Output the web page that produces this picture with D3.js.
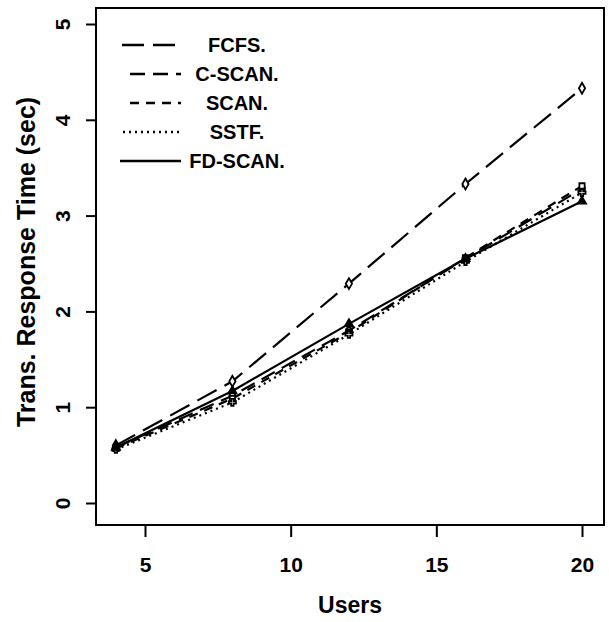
<!DOCTYPE html>
<html>
<head>
<meta charset="utf-8">
<script src="https://cdn.jsdelivr.net/npm/d3@7"></script>
<style>
  body { margin: 0; background: #fff; }
  svg text { font-family: "Liberation Sans", Arial, sans-serif; font-weight: bold; fill: #000; }
</style>
</head>
<body>
<svg id="chart" width="609" height="622"></svg>
<script>
// Data
var users = [4, 8, 12, 16, 20];
var names = ['FCFS.', 'C-SCAN.', 'SCAN.', 'SSTF.', 'FD-SCAN.'];
var fcfs   = [0.60, 1.27, 2.29, 3.33, 4.33];
var cscan  = [0.58, 1.12, 1.80, 2.55, 3.28];
var scan   = [0.57, 1.09, 1.78, 2.56, 3.31];
var sstf   = [0.56, 1.05, 1.76, 2.52, 3.24];
var fdscan = [0.58, 1.17, 1.87, 2.55, 3.15];
var xTicks = [5, 10, 15, 20];
var yTicks = [0, 1, 2, 3, 4, 5];

var series = [fcfs, cscan, scan, sstf, fdscan];
var dashes = ['22,9', '15,8', '9,7', '2,4', null];
var symbols = [d3.symbolDiamond, d3.symbolCircle, d3.symbolSquare, d3.symbolCross, d3.symbolTriangle];
var filled = [false, false, false, false, true];

// Layout
var box = {left: 96, right: 604, top: 8, bottom: 525};
var svg = d3.select('#chart');

var x = d3.scaleLinear().domain([5, 20]).range([145, 582]);
var y = d3.scaleLinear().domain([0, 5]).range([503, 24]);

// frame
svg.append('rect')
  .attr('x', box.left).attr('y', box.top)
  .attr('width', box.right - box.left).attr('height', box.bottom - box.top)
  .attr('fill', 'none').attr('stroke', '#000').attr('stroke-width', 2);

// axes
var xAxis = svg.append('g')
  .attr('transform', 'translate(0,' + box.bottom + ')')
  .call(d3.axisBottom(x).tickValues(xTicks).tickFormat(d3.format('d')).tickSize(12).tickPadding(20));
var yAxis = svg.append('g')
  .attr('transform', 'translate(' + box.left + ',0)')
  .call(d3.axisLeft(y).tickValues(yTicks).tickFormat(d3.format('d')).tickSize(10).tickPadding(0));

[xAxis, yAxis].forEach(function(g) {
  g.select('.domain').remove();
  g.selectAll('.tick line').attr('stroke', '#000').attr('stroke-width', 2);
  g.selectAll('.tick text').style('font-size', '21px');
});
yAxis.selectAll('.tick text')
  .attr('x', null).attr('dy', null)
  .attr('text-anchor', 'middle')
  .attr('transform', 'translate(-34,0) rotate(-90) translate(0,8)');

// titles
svg.append('text')
  .attr('x', 350).attr('y', 613)
  .attr('text-anchor', 'middle')
  .style('font-size', '23px')
  .text('Users');
svg.append('text')
  .attr('transform', 'translate(35,262) rotate(-90)')
  .attr('text-anchor', 'middle')
  .style('font-size', '25px')
  .text('Trans. Response Time (sec)');

// lines
var line = d3.line()
  .x(function(d, i) { return x(users[i]); })
  .y(function(d) { return y(d); });

series.forEach(function(s, k) {
  svg.append('path')
    .datum(s)
    .attr('d', line)
    .attr('fill', 'none')
    .attr('stroke', '#000')
    .attr('stroke-width', 2.2)
    .attr('stroke-dasharray', dashes[k]);

  svg.selectAll(null)
    .data(s)
    .enter().append('path')
    .attr('transform', function(d, i) { return 'translate(' + x(users[i]) + ',' + y(d) + ')'; })
    .attr('d', d3.symbol().type(symbols[k]).size(k == 0 ? 34 : 28))
    .attr('fill', filled[k] ? '#000' : '#fff')
    .attr('stroke', '#000')
    .attr('stroke-width', 1.8);
});

// legend
var legX1 = [122, 130, 130, 123, 120];
var leg = svg.append('g');
names.forEach(function(n, k) {
  var ly = 45 + k * 29;
  leg.append('line')
    .attr('x1', legX1[k]).attr('x2', 181)
    .attr('y1', ly).attr('y2', ly)
    .attr('stroke', '#000').attr('stroke-width', 2.4)
    .attr('stroke-dasharray', dashes[k]);
  leg.append('text')
    .attr('x', 237).attr('y', ly + 7)
    .attr('text-anchor', 'middle')
    .style('font-size', '20px')
    .text(n);
});
</script>
</body>
</html>
